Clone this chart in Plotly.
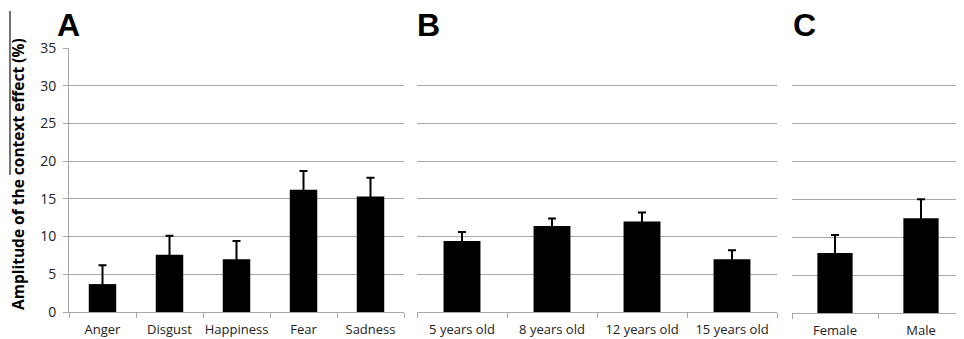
import plotly.graph_objects as go

# Panel A: emotions
emotions = ["Anger", "Disgust", "Happiness", "Fear", "Sadness"]
emotion_vals = [3.7, 7.6, 7.0, 16.2, 15.3]
emotion_err = [2.5, 2.5, 2.4, 2.5, 2.5]

# Panel B: age groups
ages = ["5 years old", "8 years old", "12 years old", "15 years old"]
age_vals = [9.4, 11.4, 12.0, 7.0]
age_err = [1.2, 1.0, 1.2, 1.2]

# Panel C: gender
genders = ["Female", "Male"]
gender_vals = [7.9, 12.5]
gender_err = [2.4, 2.5]

y_ticks = [0, 5, 10, 15, 20, 25, 30, 35]
panel_letters = ["A", "B", "C"]
y_title = "Amplitude of the context effect (%)"

W, H = 964, 339
OFF = 8  # page body margin
FONT = "Open Sans"
GRID = "#a8a8a8"

def px_x(p):
    return min(1.0, (p - OFF) / W)

def px_y(p):
    return (H - (p - OFF)) / H

fig = go.Figure()

panels = [
    (emotions, emotion_vals, emotion_err, "x", "y"),
    (ages, age_vals, age_err, "x2", "y2"),
    (genders, gender_vals, gender_err, "x3", "y3"),
]
for cats, vals, errs, xa, ya in panels:
    fig.add_trace(go.Bar(
        x=cats, y=vals, xaxis=xa, yaxis=ya,
        marker=dict(color="black", line=dict(width=0)),
        error_y=dict(type="data", symmetric=True, array=errs,
                     color="black", thickness=2, width=4),
        showlegend=False,
    ))

x_domains = [(69, 404), (417, 777), (792, 964)]
y_domains = [(312, 48), (312, 48), (313, 47.7)]

layout = dict(
    width=W, height=H,
    margin=dict(l=0, r=0, t=0, b=0, autoexpand=False),
    paper_bgcolor="white", plot_bgcolor="white",
    bargap=0.59,
    font=dict(family=FONT, color="#222"),
)
for i, ((x0, x1), (yb, yt)) in enumerate(zip(x_domains, y_domains)):
    sfx = "" if i == 0 else str(i + 1)
    layout["xaxis" + sfx] = dict(
        domain=[px_x(x0), px_x(x1)],
        anchor="y" + sfx,
        type="category",
        showline=True, linecolor=GRID, linewidth=1,
        ticks="outside", tickson="boundaries", ticklen=5,
        tickcolor=GRID, tickwidth=1,
        tickangle=0, automargin=False,
        tickfont=dict(family=FONT, size=13, color="#222"),
        ticklabelstandoff=5,
        showgrid=False, zeroline=False, fixedrange=True,
    )
    layout["yaxis" + sfx] = dict(
        domain=[px_y(yb), px_y(yt)],
        anchor="x" + sfx,
        range=[0, 35],
        tickvals=y_ticks,
        showgrid=True, gridcolor=GRID, gridwidth=1,
        zeroline=False, fixedrange=True, automargin=False,
        showline=(i == 0), linecolor=GRID, linewidth=1,
        ticks="outside" if i == 0 else "", ticklen=5, tickcolor=GRID,
        showticklabels=(i == 0),
        tickfont=dict(family=FONT, size=14, color="#222"),
        ticklabelstandoff=4,
    )
fig.update_layout(**layout)

# Panel letters
letter_x = [55, 415, 791]
for lx, letter in zip(letter_x, panel_letters):
    fig.add_annotation(
        text="<b>%s</b>" % letter, x=px_x(lx), y=px_y(25),
        xref="paper", yref="paper", xanchor="left", yanchor="middle",
        showarrow=False,
        font=dict(family="Liberation Sans", size=32, color="black"),
    )

# Y axis title
fig.add_annotation(
    text="<b>%s</b>" % y_title, x=px_x(18), y=px_y(174),
    xref="paper", yref="paper", xanchor="center", yanchor="middle",
    textangle=-90, showarrow=False,
    font=dict(family=FONT, size=15.5, color="black"),
)

# Overline artifact beside the title
fig.add_shape(type="line", xref="paper", yref="paper",
              x0=px_x(10), x1=px_x(10), y0=px_y(11), y1=px_y(175),
              line=dict(color="#444", width=1.5))

fig.write_html("out.html")
